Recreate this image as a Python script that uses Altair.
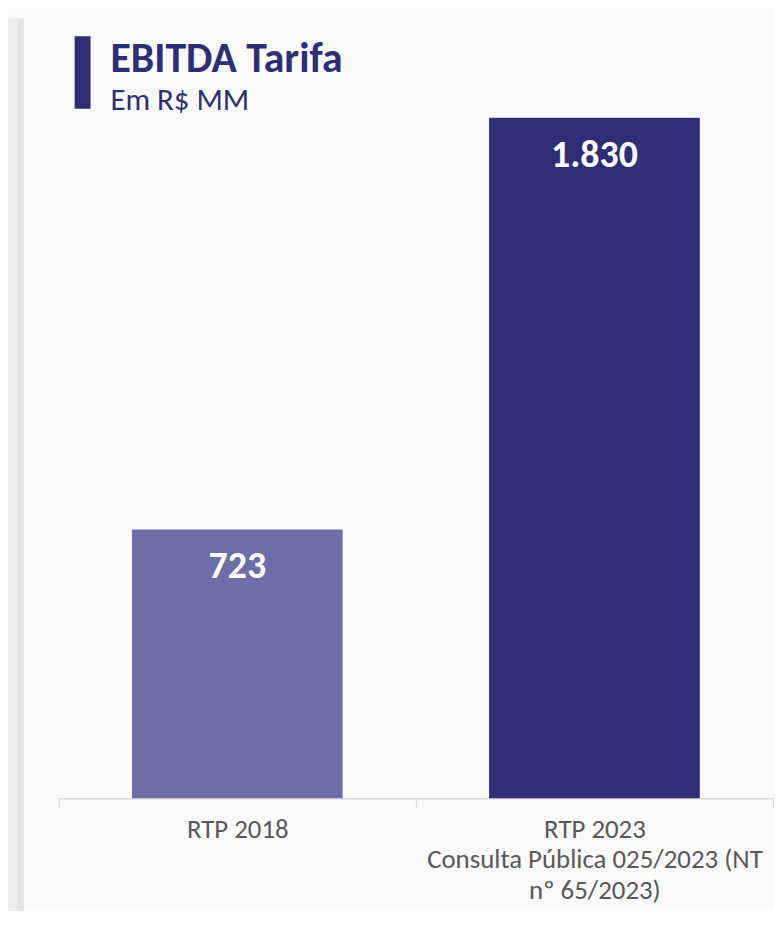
import altair as alt
import pandas as pd

categories = ["RTP 2018", "RTP 2023\nConsulta Pública 025/2023 (NT\nnº 65/2023)"]
values = [723, 1830]
labels = ["723", "1.830"]
colors = ["#6c6ea7", "#2d2e76"]

FONT = "Carlito, 'Open Sans', sans-serif"
NAVY = "#2d2e76"

df = pd.DataFrame({"cat": categories, "val": values, "label": labels})
one = pd.DataFrame({"t": [0]})

xenc = alt.X(
    "cat:N",
    sort=None,
    scale=alt.Scale(paddingInner=0, paddingOuter=0),
    axis=alt.Axis(
        title=None,
        labelAngle=0,
        labelExpr="split(datum.label, '\\n')",
        labelFont=FONT,
        labelFontSize=27,
        labelColor="#595959",
        labelLineHeight=31,
        labelPadding=9,
        labelBaseline="top",
        labelLimit=1000,
        tickBand="extent",
        tickColor="#d9d9d9",
        tickSize=9,
        domainColor="#d9d9d9",
        domainWidth=1.5,
        grid=False,
    ),
)
yenc = alt.Y("val:Q", scale=alt.Scale(domain=[0, 1830], nice=False, zero=True), axis=None)

bars = alt.Chart(df).mark_bar(width=alt.RelativeBandSize(0.59)).encode(
    x=xenc,
    y=yenc,
    color=alt.Color("cat:N", sort=None, scale=alt.Scale(domain=categories, range=colors), legend=None),
)

text = alt.Chart(df).mark_text(
    dy=38, color="white", font=FONT, fontSize=38, fontWeight="bold", baseline="middle"
).encode(x=alt.X("cat:N", sort=None), y="val:Q", text="label:N")

strip1 = alt.Chart(one).mark_rect(color="#eeeeee").encode(
    x=alt.value(-51), x2=alt.value(-41), y=alt.value(-100), y2=alt.value(830)
)
strip2 = alt.Chart(one).mark_rect(color="#e3e3e3").encode(
    x=alt.value(-41), x2=alt.value(-35), y=alt.value(-100), y2=alt.value(830)
)

tbar = alt.Chart(one).mark_rect(color=NAVY).encode(
    x=alt.value(16), x2=alt.value(32), y=alt.value(-82), y2=alt.value(-9)
)
title = alt.Chart(one).mark_text(
    text="EBITDA Tarifa", align="left", baseline="alphabetic", font=FONT,
    fontSize=42, fontWeight="bold", color=NAVY
).encode(x=alt.value(52), y=alt.value(-46))
subtitle = alt.Chart(one).mark_text(
    text="Em R$ MM", align="left", baseline="alphabetic", font=FONT,
    fontSize=31, color=NAVY
).encode(x=alt.value(52), y=alt.value(-8))

chart = alt.layer(strip1, strip2, bars, text, tbar, title, subtitle).properties(
    width=718,
    height=684,
    autosize=alt.AutoSizeParams(type="none"),
    padding={"left": 51, "top": 108, "right": 2, "bottom": 111},
    background="#fafafa",
).configure_view(stroke=None)

chart.save("out.html", embed_options={"renderer": "svg", "actions": False})
